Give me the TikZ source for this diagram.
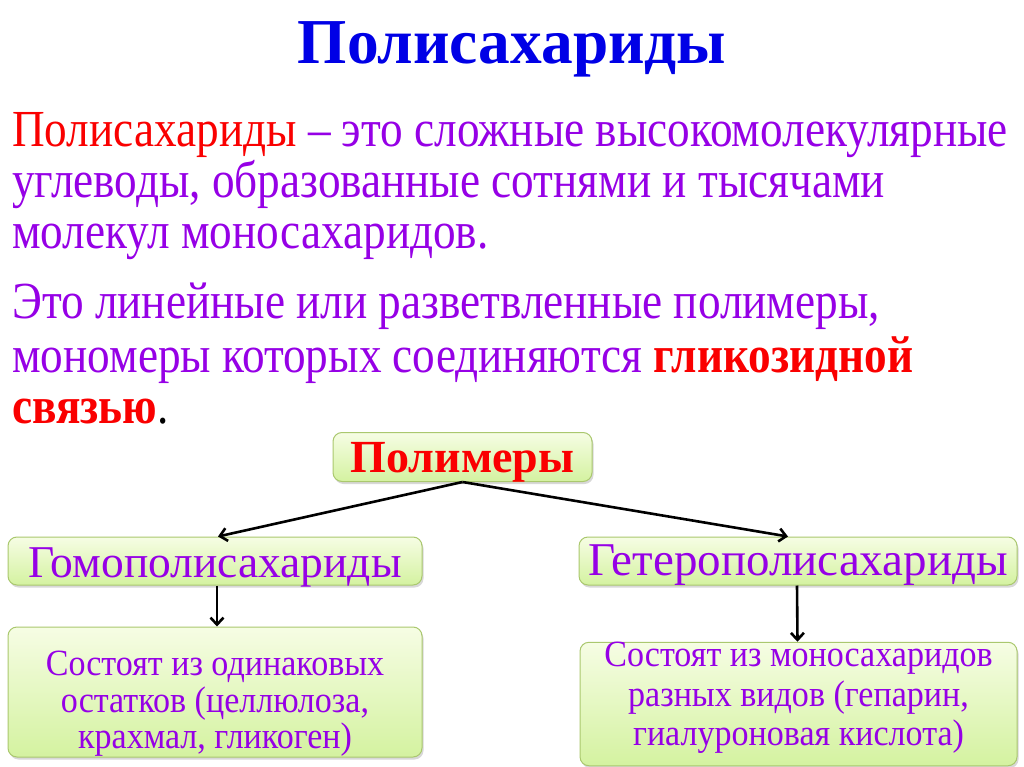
\documentclass[tikz,border=0pt]{standalone}
\usepackage{fontspec}
\setmainfont{Liberation Serif}
\newfontfamily\titlefont[FakeStretch=0.99]{Liberation Serif}
\newfontfamily\bodyfont[FakeStretch=0.87]{Liberation Serif}
\newfontfamily\boxfont[FakeStretch=0.92]{Liberation Serif}
\usetikzlibrary{arrows.meta,shadows}
\definecolor{tblue}{RGB}{0,0,230}
\definecolor{tred}{RGB}{250,0,0}
\definecolor{tpurp}{RGB}{150,0,230}
\definecolor{bxline}{RGB}{170,200,110}
\definecolor{bxtop}{RGB}{246,253,228}
\definecolor{bxbot}{RGB}{212,242,160}
\tikzset{
  line/.style={anchor=base west,inner sep=0pt,font=\bodyfont\fontsize{52}{56}\selectfont,text=tpurp},
  gbox/.style={draw=bxline,line width=1pt,rounded corners=9pt,top color=bxtop,bottom color=bxbot,
    drop shadow={shadow xshift=1.5pt,shadow yshift=-2.5pt,opacity=0.25,fill=black!60},
    inner sep=0pt,align=center},
  conn/.style={line width=2.6pt,-{Straight Barb[length=7pt,width=13pt,line width=2.6pt]}}
}
\begin{document}
\begin{tikzpicture}[x=1pt,y=-1pt]
\useasboundingbox[fill=white] (0,0) rectangle (1024,767);
\node[anchor=base,inner sep=0pt,font=\titlefont\fontsize{64}{66}\selectfont\bfseries,text=tblue] (title) at (512,64) {Полисахариды};
\node[line] (l1) at (12,147) {\textcolor{tred}{Полисахариды} – это сложные высокомолекулярные};
\node[line] (l2) at (12,198) {углеводы, образованные сотнями и тысячами};
\node[line] (l3) at (12,248) {молекул моносахаридов.};
\node[line] (l4) at (12,318) {Это линейные или разветвленные полимеры,};
\node[line] (l5) at (12,372) {мономеры которых соединяются \textcolor{tred}{\bfseries гликозидной}};
\node[line] (l6) at (12,423) {\textcolor{tred}{\bfseries связью}\textcolor{black}{.}};
\node[gbox,minimum width=259pt,minimum height=49pt,text height=31pt,text depth=0pt,font=\fontsize{46}{50}\selectfont\bfseries,text=tred] (poly) at (462.5,457) {Полимеры};
\node[gbox,minimum width=414pt,minimum height=48pt,text height=32pt,text depth=0pt,font=\fontsize{45.5}{48}\selectfont,text=tpurp] (homo) at (215,561) {Гомополисахариды};
\node[gbox,minimum width=438pt,minimum height=48pt,text height=28pt,text depth=0pt,font=\fontsize{47}{48}\selectfont,text=tpurp] (hetero) at (798,561) {Гетерополисахариды};
\node[gbox,minimum width=414pt,minimum height=130pt,font=\boxfont\fontsize{37}{36.5}\selectfont,text=tpurp] (hb) at (215,692) {\rule{0pt}{48pt}Состоят из одинаковых\\остатков (целлюлоза,\\крахмал, гликоген)};
\node[gbox,minimum width=437pt,minimum height=122pt,font=\boxfont\fontsize{37}{39.5}\selectfont,text=tpurp] (eb) at (798.5,704) {Состоят из моносахаридов\\разных видов (гепарин,\\гиалуроновая кислота)\rule[-20pt]{0pt}{1pt}};
\draw[conn] (poly.south) -- ([xshift=3pt]homo.north);
\draw[conn] (poly.south) -- ([xshift=-10pt]hetero.north);
\draw[conn] ([xshift=2pt]homo.south) -- ([xshift=2pt]hb.north);
\draw[conn] ([xshift=-1pt]hetero.south) -- ([xshift=-1pt]eb.north);
\end{tikzpicture}
\end{document}
